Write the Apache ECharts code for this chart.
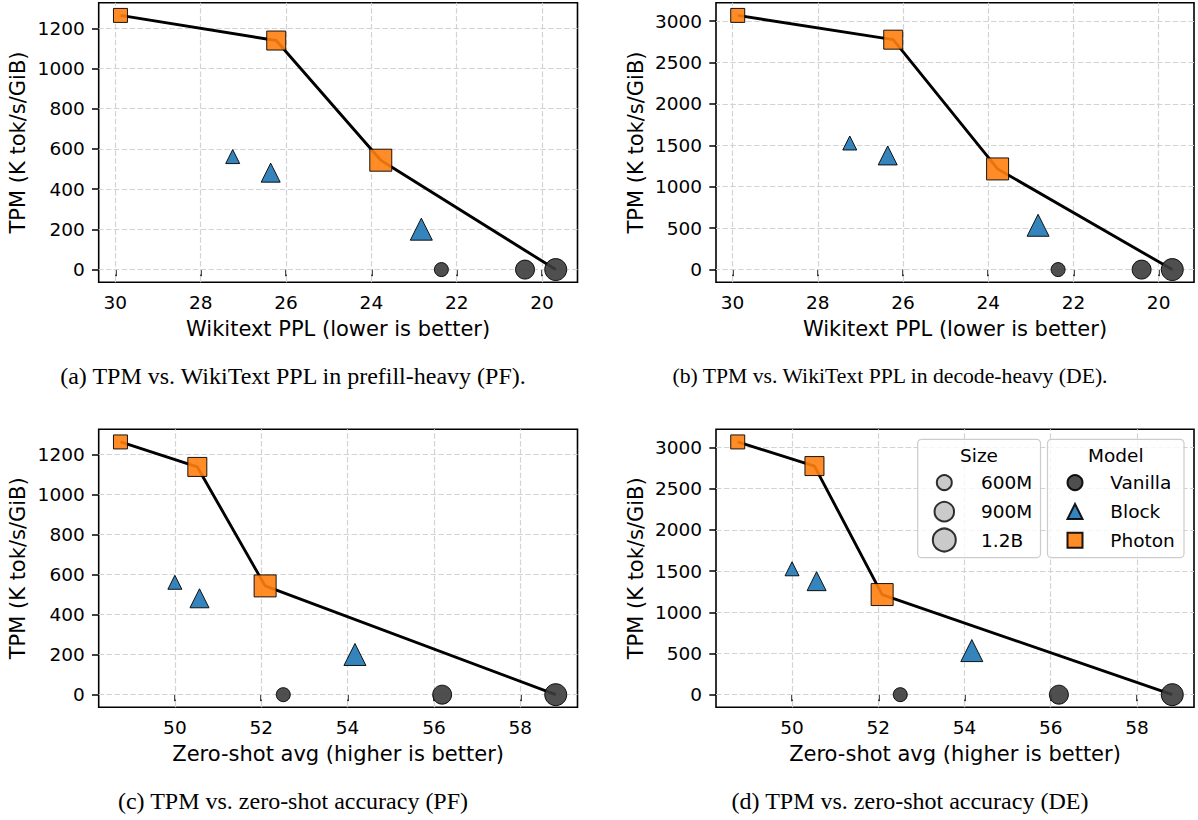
<!DOCTYPE html>
<html><head><meta charset="utf-8">
<script src="https://cdn.jsdelivr.net/npm/echarts@6/dist/echarts.min.js"></script>
<style>html,body{margin:0;padding:0;background:#fff}#c{width:1198px;height:820px}</style>
</head><body><div id="c"></div>
<script>
// ---------------- data ----------------
const sizeNames = ['600M', '900M', '1.2B'];
const modelNames = ['Vanilla', 'Block', 'Photon'];
// Wikitext PPL per size (600M, 900M, 1.2B)
const pplVanilla = [22.36, 20.40, 19.68];
const pplBlock   = [27.25, 26.36, 22.83];
const pplPhoton  = [29.88, 26.23, 23.78];
// Zero-shot avg per size
const zsVanilla = [52.51, 56.19, 58.82];
const zsBlock   = [50.00, 50.57, 54.17];
const zsPhoton  = [48.74, 50.52, 52.09];
// TPM (K tok/s/GiB), prefill-heavy
const tpmPFVanilla = [0, 0, 0];
const tpmPFBlock   = [562, 482, 201];
const tpmPFPhoton  = [1264, 1139, 544];
// TPM (K tok/s/GiB), decode-heavy
const tpmDEVanilla = [0, 0, 0];
const tpmDEBlock   = [1528, 1378, 535];
const tpmDEPhoton  = [3068, 2775, 1215];
// tick labels
const xTicksPPL = [30, 28, 26, 24, 22, 20];
const xTicksZS  = [50, 52, 54, 56, 58];
const yTicksPF  = [0, 200, 400, 600, 800, 1000, 1200];
const yTicksDE  = [0, 500, 1000, 1500, 2000, 2500, 3000];
const xNamePPL = 'Wikitext PPL (lower is better)';
const xNameZS  = 'Zero-shot avg (higher is better)';
const yName = 'TPM (K tok/s/GiB)';
const captions = [
  '(a) TPM vs. WikiText PPL in prefill-heavy (PF).',
  '(b) TPM vs. WikiText PPL in decode-heavy (DE).',
  '(c) TPM vs. zero-shot accuracy (PF)',
  '(d) TPM vs. zero-shot accuracy (DE)'
];

// ---------------- styling ----------------
const FONT = '"DejaVu Sans", sans-serif';
const SERIF = '"Liberation Serif", "Times New Roman", serif';
const colors = { Vanilla: '#3c3c3c', Block: '#1f77b4', Photon: '#ff7f0e' };
const symbols = { Vanilla: 'circle', Block: 'triangle', Photon: 'rect' };
const symSizes = [14, 19, 22];

const panels = [
  { x: [pplVanilla, pplBlock, pplPhoton], y: [tpmPFVanilla, tpmPFBlock, tpmPFPhoton], xt: xTicksPPL, yt: yTicksPF, inv: true,  xn: xNamePPL },
  { x: [pplVanilla, pplBlock, pplPhoton], y: [tpmDEVanilla, tpmDEBlock, tpmDEPhoton], xt: xTicksPPL, yt: yTicksDE, inv: true,  xn: xNamePPL },
  { x: [zsVanilla, zsBlock, zsPhoton],    y: [tpmPFVanilla, tpmPFBlock, tpmPFPhoton], xt: xTicksZS,  yt: yTicksPF, inv: false, xn: xNameZS },
  { x: [zsVanilla, zsBlock, zsPhoton],    y: [tpmDEVanilla, tpmDEBlock, tpmDEPhoton], xt: xTicksZS,  yt: yTicksDE, inv: false, xn: xNameZS }
];
const gridBoxes = [
  { left: 98.7, top: 2.7,   width: 478.8, height: 279.6 },
  { left: 716,  top: 2.7,   width: 478,   height: 279.6 },
  { left: 98.7, top: 429.3, width: 478.8, height: 278 },
  { left: 716,  top: 429.3, width: 478,   height: 278 }
];
const captionPos = [[293, 376], [890, 376], [293, 800.6], [910, 800.6]];
const captionSize = [24, 21.7, 24, 24];

function padExtent(arrs) {
  const all = [].concat(...arrs);
  const mn = Math.min(...all), mx = Math.max(...all);
  const m = (mx - mn) * 0.05;
  return [mn - m, mx + m];
}
const plain = (v) => String(v);

const grid = [], xAxis = [], yAxis = [], series = [];
panels.forEach((p, i) => {
  grid.push(Object.assign({ show: true, borderColor: '#000', borderWidth: 1.6, backgroundColor: 'transparent', containLabel: false, outerBoundsMode: 'none' }, gridBoxes[i]));
  const xe = padExtent(p.x), ye = padExtent(p.y);
  xAxis.push({
    type: 'value', gridIndex: i, min: xe[0], max: xe[1], inverse: p.inv,
    axisLine: { show: false },
    axisTick: { show: true, customValues: p.xt, length: 6.7, lineStyle: { color: '#000', width: 1.5 } },
    axisLabel: { customValues: p.xt, formatter: plain, fontSize: 18.5, color: '#000', fontFamily: FONT, margin: 11 },
    splitLine: { show: false },
    name: p.xn, nameLocation: 'middle', nameGap: 36.5,
    nameTextStyle: { fontSize: 21, color: '#000', fontFamily: FONT }
  });
  yAxis.push({
    type: 'value', gridIndex: i, min: ye[0], max: ye[1],
    axisLine: { show: false },
    axisTick: { show: true, customValues: p.yt, length: 6.7, lineStyle: { color: '#000', width: 1.5 } },
    axisLabel: { customValues: p.yt, formatter: plain, fontSize: 18.5, color: '#000', fontFamily: FONT, margin: 14 },
    splitLine: { show: false },
    name: yName, nameLocation: 'middle', nameGap: 70, nameRotate: 90,
    nameTextStyle: { fontSize: 21, color: '#000', fontFamily: FONT }
  });
  // Pareto line: Photon points then the 1.2B Vanilla point
  const px = p.x[2], py = p.y[2];
  const lineData = px.map((v, k) => [v, py[k]]);
  lineData.push([p.x[0][2], p.y[0][2]]);
  series.push({
    type: 'line', xAxisIndex: i, yAxisIndex: i, data: lineData, z: 2,
    symbol: 'none', silent: true, lineStyle: { color: '#000', width: 2.9 },
    markLine: {
      silent: true, z: 1, symbol: ['none', 'none'], label: { show: false }, animation: false,
      lineStyle: { color: '#d3d3d3', width: 1.2, type: [5.5, 2.4] },
      emphasis: { disabled: true },
      data: p.xt.map(v => ({ xAxis: v })).concat(p.yt.map(v => ({ yAxis: v })))
    }
  });
  modelNames.forEach((m, mi) => {
    series.push({
      type: 'scatter', name: m, xAxisIndex: i, yAxisIndex: i, z: 3,
      symbol: symbols[m],
      symbolSize: (val) => symSizes[val[2]],
      data: p.x[mi].map((v, k) => [v, p.y[mi][k], k]),
      itemStyle: { color: colors[m], borderColor: '#000', borderWidth: 1, opacity: 0.9 }
    });
  });
});
// legend-only series for sizes
sizeNames.forEach((s) => {
  series.push({ type: 'scatter', name: s, xAxisIndex: 3, yAxisIndex: 3, data: [], symbol: 'circle',
    itemStyle: { color: '#bdbdbd', borderColor: '#000', borderWidth: 1 } });
});

const legendText = { fontSize: 18.5, color: '#000', fontFamily: FONT };
const sizeIcon = [15, 19.5, 23];
const sizeRowY = [482.3, 510.7, 539];
const legends = sizeNames.map((s, k) => {
  const w = sizeIcon[k];
  const h = Math.max(w, 18.5);
  const left = 943.3 - w / 2;
  return {
    data: [{ name: s, icon: 'circle' }], left: left, top: sizeRowY[k] - h / 2, padding: 0,
    itemWidth: w, itemHeight: w, selectedMode: false, z: 10,
    textStyle: Object.assign({ padding: [0, 0, 0, 980 - (left + w + 5)] }, legendText)
  };
});
legends.push({
  data: modelNames.map(m => ({ name: m, icon: symbols[m] })), orient: 'vertical',
  left: 1074 - 7.5, top: 482.3 - 9.25, padding: 0, itemWidth: 15, itemHeight: 15,
  itemGap: 28.35 - 18.5, selectedMode: false, z: 10,
  textStyle: Object.assign({ padding: [0, 0, 0, 1109.3 - (1066.5 + 20)] }, legendText)
});

const graphic = [
  { type: 'rect', z: 5, silent: true, shape: { x: 917.7, y: 439.3, width: 122.8, height: 118.4, r: 4 },
    style: { fill: 'rgba(255,255,255,0.8)', stroke: '#cccccc', lineWidth: 1.2 } },
  { type: 'rect', z: 5, silent: true, shape: { x: 1047.5, y: 439.3, width: 136.5, height: 118.4, r: 4 },
    style: { fill: 'rgba(255,255,255,0.8)', stroke: '#cccccc', lineWidth: 1.2 } },
  { type: 'text', z: 11, silent: true, style: { text: 'Size', x: 979, y: 455, align: 'center', verticalAlign: 'middle', font: '18.5px ' + FONT, fill: '#000' } },
  { type: 'text', z: 11, silent: true, style: { text: 'Model', x: 1115.8, y: 455, align: 'center', verticalAlign: 'middle', font: '18.5px ' + FONT, fill: '#000' } }
];
captions.forEach((c, i) => {
  graphic.push({ type: 'text', z: 11, silent: true,
    style: { text: c, x: captionPos[i][0], y: captionPos[i][1], align: 'center', verticalAlign: 'middle', font: captionSize[i] + 'px ' + SERIF, fill: '#000' } });
});

const chart = echarts.init(document.getElementById('c'), null, { renderer: 'svg' });
chart.setOption({
  animation: false,
  backgroundColor: '#fff',
  textStyle: { fontFamily: FONT },
  grid, xAxis, yAxis, series,
  legend: legends,
  graphic
});
</script>
</body></html>
